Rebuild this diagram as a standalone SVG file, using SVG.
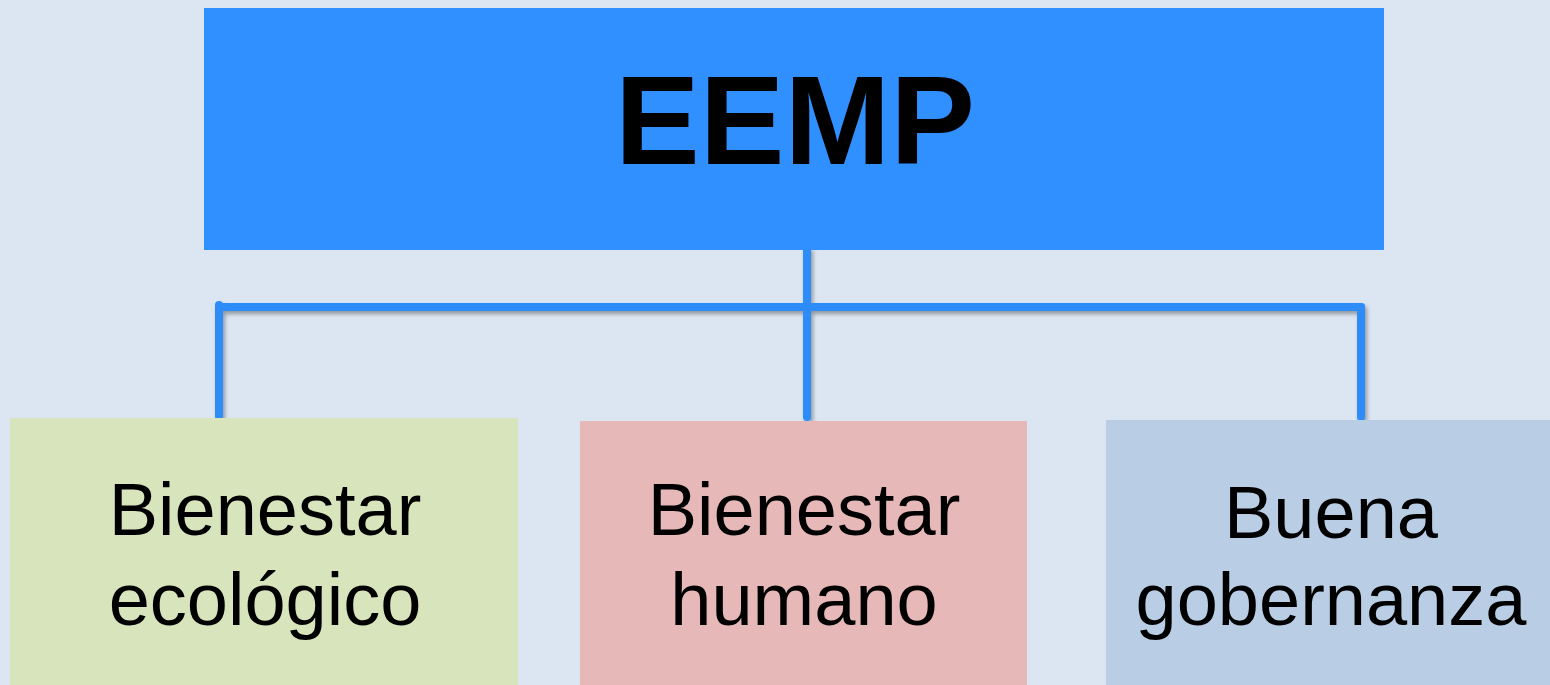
<svg xmlns="http://www.w3.org/2000/svg" width="1550" height="685" viewBox="0 0 1550 685">
<defs>
<filter id="sh" x="-20%" y="-20%" width="140%" height="140%">
<feGaussianBlur in="SourceAlpha" stdDeviation="2"/>
<feOffset dx="2" dy="3" result="b"/>
<feComponentTransfer><feFuncA type="linear" slope="0.35"/></feComponentTransfer>
<feMerge><feMergeNode/><feMergeNode in="SourceGraphic"/></feMerge>
</filter>
<style>
.t{font-family:"Liberation Sans",Arial,sans-serif;fill:#000;text-anchor:middle}
.c{font-size:74px}
.ln{stroke:#2E8CF8;stroke-width:8;stroke-linecap:round;fill:none}
</style>
</defs>
<rect width="1550" height="685" fill="#DCE6F2"/>
<g id="connectors" filter="url(#sh)">
<path class="ln" d="M807 250 V417"/>
<path class="ln" d="M219 307 H1361"/>
<path class="ln" d="M219 305 V416"/>
<path class="ln" d="M1361 307 V417"/>
</g>
<g id="eemp">
<rect x="204" y="8" width="1180" height="242" fill="#3090FF"/>
<text class="t" x="795" y="164" font-size="127" font-weight="bold">EEMP</text>
</g>
<g id="bienestar-ecologico">
<rect x="10" y="418" width="508" height="267" fill="#D8E4BC"/>
<text class="t c" x="265" y="535">Bienestar</text>
<text class="t c" x="265" y="625">ecológico</text>
</g>
<g id="bienestar-humano">
<rect x="580" y="421" width="447" height="264" fill="#E6B8B7"/>
<text class="t c" x="804" y="535">Bienestar</text>
<text class="t c" x="804" y="625">humano</text>
</g>
<g id="buena-gobernanza">
<rect x="1106" y="420" width="444" height="265" fill="#B9CDE5"/>
<text class="t c" x="1331" y="538">Buena</text>
<text class="t c" x="1331" y="625">gobernanza</text>
</g>
</svg>
